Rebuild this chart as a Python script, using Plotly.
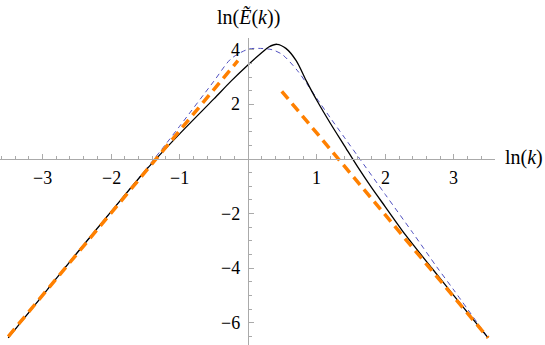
import plotly.graph_objects as go

# curva exacta (negra)
x_exacta = [-3.5, -3.0, -2.5, -2.0, -1.5, -1.0, -0.5, -0.25, 0.0, 0.2, 0.3, 0.42, 0.55,
            0.7, 0.85, 1.0, 1.2, 1.4, 1.6, 1.8, 2.0, 2.3, 2.68, 3.0, 3.5]
y_exacta = [-6.55, -5.0, -3.45, -1.93, -0.43, 0.92, 2.2, 2.85, 3.45, 3.9, 4.1, 4.2, 4.05,
            3.6, 2.85, 2.15, 1.3, 0.5, -0.3, -1.05, -1.75, -2.8, -4.0, -5.0, -6.55]

# aproximacion (azul discontinua)
x_aprox = [-3.5, -3.0, -2.5, -2.0, -1.5, -1.2, -1.0, -0.5, -0.25, 0.0, 0.15, 0.35,
           0.5, 0.72, 0.86, 1.0, 1.2, 1.4, 1.6, 2.0, 2.4, 2.75, 3.0, 3.5]
y_aprox = [-6.55, -5.0, -3.45, -1.93, -0.4, 0.55, 1.2, 2.85, 3.67, 4.02, 4.05, 4.0,
           3.82, 3.23, 2.74, 2.22, 1.5, 0.8, 0.1, -1.3, -2.7, -3.95, -4.8, -6.55]

# asintotas (naranja)
x_izq = [-3.5, -0.15]
y_izq = [-6.5, 3.6]
x_der = [0.49, 3.5]
y_der = [2.48, -6.55]

# ticks
ticks_x = [-3, -2, -1, 1, 2, 3]
ticks_y = [-6, -4, -2, 2, 4]

xr = [-3.62, 3.6]
yr = [-6.81, 4.43]
dom_x = [0, 495 / 545]
dom_y = [0, 307 / 345]

fuente = "Liberation Serif"

def etiqueta(t):
    return "\u2212" + str(-t) if t < 0 else str(t)

fig = go.Figure()
fig.add_trace(go.Scatter(x=x_aprox, y=y_aprox, mode="lines",
                         line=dict(color="#5050c0", width=1, dash="5px,4px", shape="spline", smoothing=0.8)))
fig.add_trace(go.Scatter(x=x_exacta, y=y_exacta, mode="lines",
                         line=dict(color="black", width=1.3, shape="spline", smoothing=0.8)))
fig.add_trace(go.Scatter(x=x_izq, y=y_izq, mode="lines",
                         line=dict(color="#ff8000", width=3.5, dash="10px,6px")))
fig.add_trace(go.Scatter(x=x_der, y=y_der, mode="lines",
                         line=dict(color="#ff8000", width=3.5, dash="10px,6px")))

# ejes cruzando en el origen
pos_x = dom_y[0] + (0 - yr[0]) / (yr[1] - yr[0]) * (dom_y[1] - dom_y[0])
pos_y = dom_x[0] + (0 - xr[0]) / (xr[1] - xr[0]) * (dom_x[1] - dom_x[0])

eje = dict(showgrid=False, zeroline=False, showline=True, linecolor="#aaaaaa",
           linewidth=1, ticks="inside", ticklen=5, tickcolor="#aaaaaa",
           showticklabels=False, anchor="free")

fig.update_xaxes(range=xr, domain=dom_x, position=pos_x, tickvals=ticks_x,
                 minor=dict(dtick=0.2, tick0=0, ticklen=3, tickcolor="#aaaaaa", ticks="inside"),
                 **eje)
fig.update_yaxes(range=yr, domain=dom_y, position=pos_y, tickvals=ticks_y,
                 minor=dict(dtick=0.5, tick0=0, ticklen=3, tickcolor="#aaaaaa", ticks="inside"),
                 **eje)

# etiquetas de los ticks
for t in ticks_x:
    fig.add_annotation(text=etiqueta(t), x=t, y=0, xref="x", yref="y", yshift=-19,
                       xanchor="center", yanchor="middle", showarrow=False,
                       font=dict(family=fuente, size=18, color="black"))
for t in ticks_y:
    fig.add_annotation(text=etiqueta(t), x=0, y=t, xref="x", yref="y", xshift=-6,
                       xanchor="right", yanchor="middle", showarrow=False,
                       font=dict(family=fuente, size=18, color="black"))

fig.add_annotation(text="ln(<i>\u1ebc</i>(<i>k</i>))", xref="paper", yref="paper",
                   x=pos_y, y=(345 - 17) / 345, xanchor="center", yanchor="middle",
                   showarrow=False, font=dict(family=fuente, size=20, color="black"))
fig.add_annotation(text="ln(<i>k</i>)", xref="paper", yref="paper",
                   x=1, y=pos_x + 0.005, xanchor="right", yanchor="middle",
                   showarrow=False, font=dict(family=fuente, size=20, color="black"))

fig.update_layout(width=545, height=345, showlegend=False,
                  margin=dict(l=0, r=0, t=0, b=0, autoexpand=False),
                  plot_bgcolor="white", paper_bgcolor="white")

fig.write_html("out.html", config={"displayModeBar": False},
               post_script="document.body.style.margin='0';")
